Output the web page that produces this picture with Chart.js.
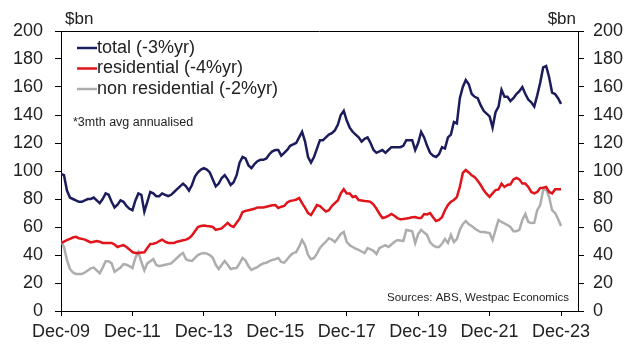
<!DOCTYPE html>
<html>
<head>
<meta charset="utf-8">
<script src="https://cdn.jsdelivr.net/npm/chart.js@4"></script>
<style>
  html, body { margin: 0; padding: 0; background: #fff; }
  #wrap { width: 634px; height: 344px; }
</style>
</head>
<body>
<div id="wrap"><canvas id="myChart" width="634" height="344"></canvas></div>
<script>
// Data: monthly, Dec-09 .. Dec-23 ($bn, 3mth avg annualised)
const xTickLabels = ['Dec-09', 'Dec-11', 'Dec-13', 'Dec-15', 'Dec-17', 'Dec-19', 'Dec-21', 'Dec-23']
const yTicks = [0, 20, 40, 60, 80, 100, 120, 140, 160, 180, 200]
const seriesNames = ['total (-3%yr)', 'residential (-4%yr)', 'non residential (-2%yr)']

const total = [
  98, 97, 86, 81, 80, 79, 78, 78, 79, 80, 80, 81,
  79, 77, 80, 84, 83, 78, 74, 76, 79, 78, 75, 73,
  72, 79, 84, 83, 71, 78, 85, 84, 82, 82, 84, 83,
  82, 83, 85, 87, 89, 91, 89, 86, 90, 96, 99, 101,
  102, 101, 99, 94, 89, 91, 95, 97, 94, 90, 92, 97,
  106, 110, 109, 104, 102, 105, 107, 108, 108, 109, 112, 114,
  115, 115, 111, 113, 115, 118, 119, 120, 124, 128, 121, 110,
  106, 110, 116, 122, 122, 124, 126, 127, 129, 133, 140, 143,
  136, 131, 128, 126, 124, 121, 123, 124, 120, 115, 113, 114,
  115, 113, 115, 117, 117, 117, 117, 118, 122, 122, 122, 115,
  120, 128, 124, 118, 113, 111, 110, 112, 117, 116, 124, 126,
  135, 134, 152, 160, 165, 162, 155, 153, 152, 147, 143, 141,
  139, 131, 142, 146, 158, 153, 153, 150, 152, 155, 157, 160,
  155, 151, 149, 146, 154, 163, 174, 175, 167, 156, 155, 152,
  148
]

const residential = [
  48.6, 49.5, 50.7, 51.5, 52.5, 53, 52, 51.5, 51, 50, 49, 49.5,
  50, 49.5, 48.6, 48.5, 48.6, 48.6, 47.5, 45.7, 46.5, 47, 45.7, 44,
  42, 41.5, 41.4, 41.8, 42, 45, 47.9, 48, 48.6, 50, 51, 49.5,
  48.6, 48.6, 48.6, 49.5, 50, 50.5, 51, 52, 54, 57, 60, 60.7,
  61, 60.7, 60.5, 60, 58, 58.5, 59, 61, 62.9, 61, 60, 63,
  66, 70.7, 71.5, 72, 72.5, 73, 74, 74, 74, 74.5, 75, 75.5,
  75.7, 73.6, 74.5, 75, 77.5, 78.6, 79, 79.5, 80.7, 77, 73.6, 70,
  68.6, 72, 75.7, 75, 73, 71, 72, 75, 77, 79, 84, 87,
  84, 84, 81.4, 82, 79.3, 79, 78.6, 78.4, 78, 76, 73, 69.5,
  66.4, 67, 68, 69.3, 68, 66.4, 65.5, 65.7, 66, 66.4, 67, 67.1,
  66.5, 66.4, 69.3, 69, 70, 67, 64.3, 65, 67, 72, 75.7, 78,
  79.3, 81.4, 88.6, 98.6, 100.7, 99, 97, 95.5, 93, 90, 86.4, 83.6,
  81.5, 84, 86.4, 86.8, 91, 88.6, 90, 90.5, 94, 95, 94, 91,
  91, 88.6, 85, 84, 85, 87.9, 88, 88.6, 85, 84, 87, 87,
  87
]

const nonResidential = [
  50, 45.7, 36.4, 30, 27.5, 26.5, 26.4, 26.4, 27.5, 29, 30.5, 31,
  29, 27, 31, 35.5, 35.5, 34, 28, 29.5, 31, 33.5, 33, 32,
  30.7, 38, 42, 35, 29, 34, 35.5, 37, 33, 32, 32.5, 33,
  33.5, 34, 36, 37.9, 40, 41.4, 37, 36, 35.7, 38, 40, 41,
  41.4, 41, 40, 38, 33, 30, 33, 35.7, 33, 30, 30.5, 30.7,
  34, 37.9, 36, 32, 29.3, 30.5, 31.4, 33, 34, 34.5, 35.7, 36.5,
  37, 37.9, 35, 34.5, 37, 39.5, 41.4, 42, 46, 50.7, 47, 40,
  37, 37.9, 41, 45, 47.5, 49.5, 52, 51, 49.3, 52, 55, 56.4,
  49.3, 47, 45.7, 44.5, 43.6, 42.5, 41.4, 45, 44, 43, 40.7, 45,
  46, 47, 45.7, 47.5, 49.3, 50.7, 50.3, 50, 57.9, 57.5, 57, 48.6,
  55, 57.9, 56, 54.3, 49, 47, 45.7, 45.7, 48, 51.4, 48.6, 54.3,
  49.3, 51.4, 58, 62, 64.3, 62, 60.7, 59, 57.5, 56.4, 56.4, 56,
  55.7, 50.7, 57.9, 65, 63.6, 62.5, 61.4, 60, 57, 57, 58, 65,
  69.3, 63.6, 62.9, 63, 72, 75.7, 86.4, 87, 81.4, 72, 70, 65.7,
  60.7
]

const seriesColors = ['#1c1c5c', '#e0141a', '#adadad']
const seriesValues = [total, residential, nonResidential]

// --------------------------------------------------------------------------------
const FONT = 'Arial, "Liberation Sans", sans-serif'
const toPoints = arr => arr.map((v, i) => ({ x: i, y: v }))

// extras drawn on the canvas: top border, units, legend, notes
const extrasPlugin = {
  id: 'extras',
  afterDraw(chart) {
    const ctx = chart.ctx
    const a = chart.chartArea
    ctx.save()
    ctx.strokeStyle = '#000'
    ctx.lineWidth = 1
    ctx.beginPath()
    ctx.moveTo(a.left, a.top + 0.5)
    ctx.lineTo(a.right, a.top + 0.5)
    ctx.stroke()

    ctx.fillStyle = '#222'
    ctx.textBaseline = 'middle'
    ctx.font = '17px ' + FONT
    ctx.textAlign = 'left'
    ctx.fillText('$bn', a.left + 4, 19)
    ctx.textAlign = 'right'
    ctx.fillText('$bn', a.right - 2, 19)

    // legend
    ctx.textAlign = 'left'
    ctx.font = '18px ' + FONT
    seriesNames.forEach((name, i) => {
      const y = 48 + i * 20.5
      ctx.strokeStyle = seriesColors[i]
      ctx.lineWidth = 2.5
      ctx.beginPath()
      ctx.moveTo(77, y)
      ctx.lineTo(97, y)
      ctx.stroke()
      ctx.fillStyle = '#222'
      ctx.fillText(name, 97, y)
    })

    ctx.font = '12.5px ' + FONT
    ctx.fillText('*3mth avg annualised', 73, 123)

    ctx.textAlign = 'right'
    ctx.font = '11.5px ' + FONT
    ctx.fillText('Sources: ABS, Westpac Economics', 569, 298)
    ctx.restore()
  }
}

const tickFont = { family: FONT, size: 18 }

new Chart(document.getElementById('myChart'), {
  type: 'line',
  data: {
    datasets: seriesValues.map((vals, i) => ({
      label: seriesNames[i],
      data: toPoints(vals),
      borderColor: seriesColors[i],
      borderWidth: 2.5,
      pointRadius: 0,
      tension: 0,
      fill: false,
      order: i
    }))
  },
  options: {
    responsive: false,
    animation: false,
    devicePixelRatio: 1,
    layout: { padding: { top: 31, left: 0, right: 0, bottom: 0 } },
    plugins: { legend: { display: false }, tooltip: { enabled: false } },
    scales: {
      x: {
        type: 'linear',
        min: 0,
        max: 173.7,
        afterBuildTicks: scale => {
          scale.ticks = xTickLabels.map((t, i) => ({ value: i * 24 }))
        },
        afterFit: scale => { scale.height = 33 },
        ticks: {
          autoSkip: false,
          maxRotation: 0,
          padding: 5,
          color: '#222',
          font: tickFont,
          callback: v => xTickLabels[v / 24]
        },
        border: { color: '#000', width: 1 },
        grid: { drawOnChartArea: false, drawTicks: true, tickLength: 5, color: '#000' }
      },
      y: {
        position: 'left',
        min: 0,
        max: 200,
        afterBuildTicks: scale => { scale.ticks = yTicks.map(v => ({ value: v })) },
        afterFit: scale => { scale.width = 61 },
        ticks: { padding: 12, color: '#222', font: tickFont },
        border: { color: '#000', width: 1 },
        grid: { drawOnChartArea: false, drawTicks: true, tickLength: 6, color: '#000' }
      },
      y2: {
        position: 'right',
        min: 0,
        max: 200,
        afterBuildTicks: scale => { scale.ticks = yTicks.map(v => ({ value: v })) },
        afterFit: scale => { scale.width = 56 },
        ticks: { padding: 9, color: '#222', font: tickFont },
        border: { color: '#000', width: 1 },
        grid: { drawOnChartArea: false, drawTicks: true, tickLength: 6, color: '#000' }
      }
    }
  },
  plugins: [extrasPlugin]
})
</script>
</body>
</html>
